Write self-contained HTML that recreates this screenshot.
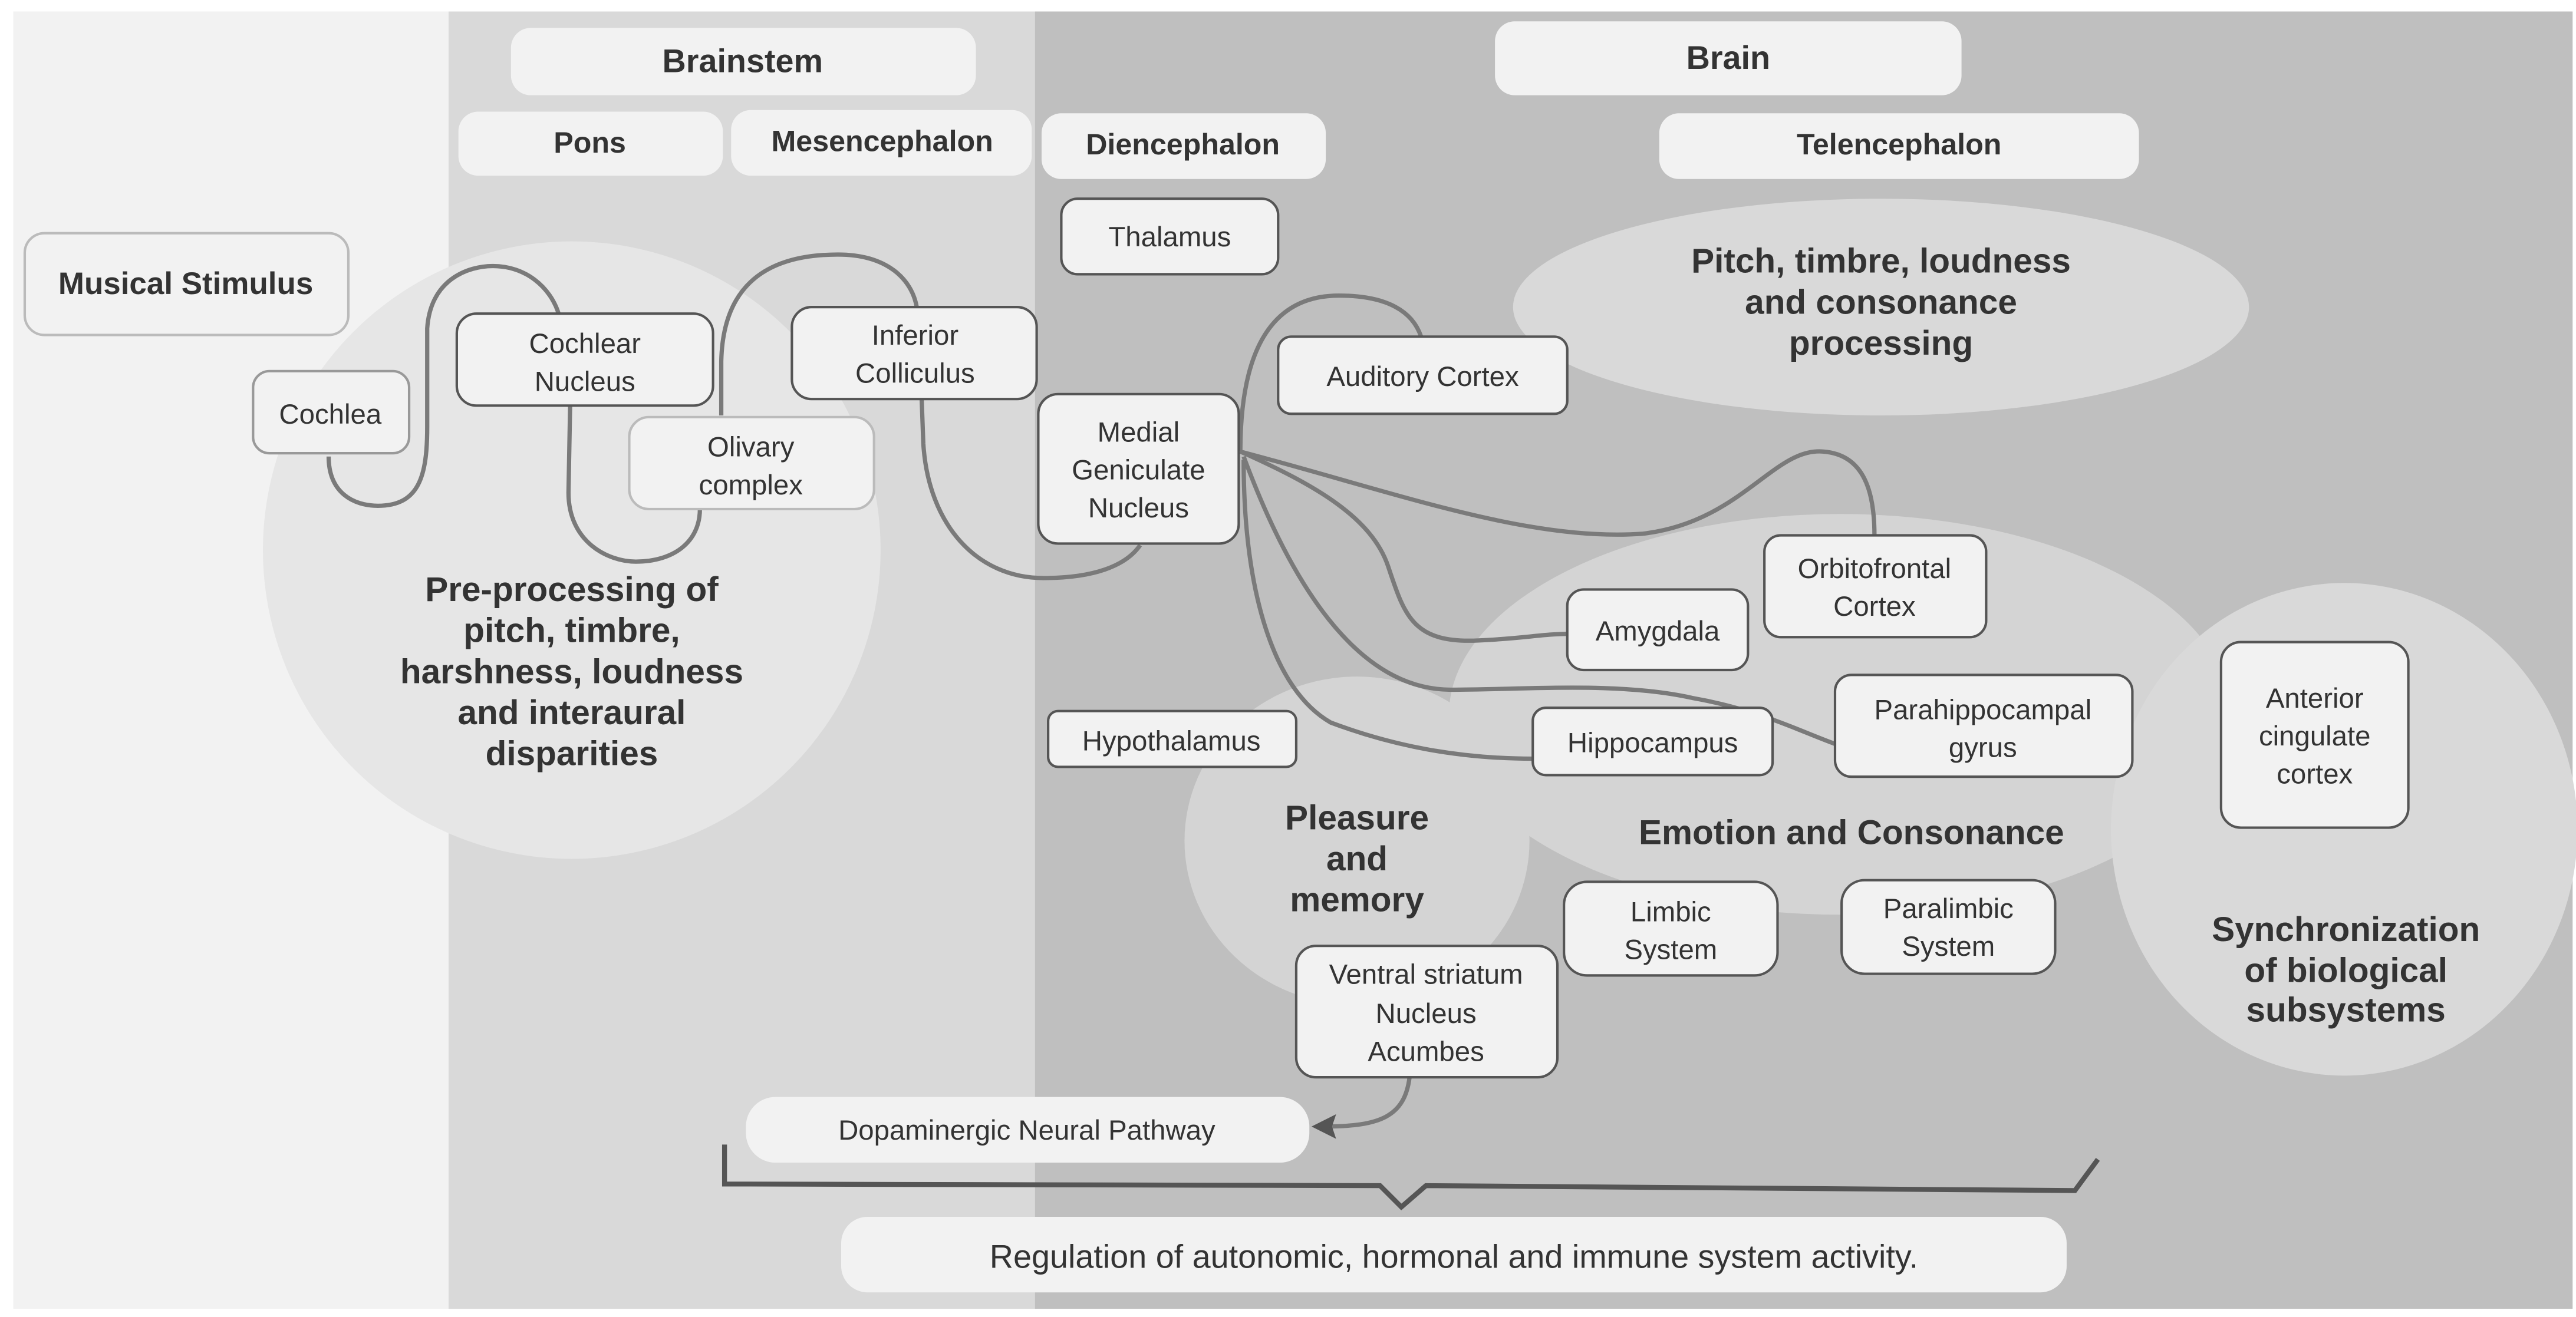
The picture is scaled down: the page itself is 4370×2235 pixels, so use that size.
<!DOCTYPE html>
<html><head><meta charset="utf-8"><style>
html,body{margin:0;padding:0;background:#fff;}
svg{display:block;}
text{font-family:"Liberation Sans",sans-serif;fill:#333;}
.b{font-weight:bold;}
</style></head><body>
<svg width="4370" height="2235" viewBox="0 0 1568 802" xmlns="http://www.w3.org/2000/svg">
<rect x="0" y="0" width="1568" height="802" fill="#fff"/>
<rect x="8" y="7" width="266" height="790" fill="#f2f2f2"/>
<rect x="273" y="7" width="358" height="790" fill="#d9d9d9"/>
<rect x="630" y="7" width="936" height="790" fill="#bfbfbf"/>

<!-- big regions -->
<circle cx="348" cy="335" r="188" fill="#e6e6e6"/>
<ellipse cx="1145" cy="187" rx="224" ry="66" fill="#d9d9d9"/>
<ellipse cx="1120" cy="435" rx="238" ry="122" fill="#d4d4d4"/>
<ellipse cx="826" cy="512" rx="105" ry="100" fill="#d4d4d4"/>
<ellipse cx="1427" cy="505" rx="142" ry="150" fill="#d9d9d9"/>

<!-- header boxes -->
<g fill="#f2f2f2">
<rect x="311" y="17" width="283" height="41" rx="12"/>
<rect x="279" y="68" width="161" height="39" rx="12"/>
<rect x="445" y="67" width="183" height="40" rx="12"/>
<rect x="634" y="69" width="173" height="40" rx="12"/>
<rect x="910" y="13" width="284" height="45" rx="12"/>
<rect x="1010" y="69" width="292" height="40" rx="12"/>
<rect x="454" y="668" width="343" height="40" rx="18"/>
<rect x="512" y="741" width="746" height="46" rx="16"/>
</g>
<g class="b" font-size="20" text-anchor="middle">
<text x="452" y="44" class="b">Brainstem</text>
<text x="359" y="93" class="b" font-size="18">Pons</text>
<text x="537" y="92" class="b" font-size="18">Mesencephalon</text>
<text x="720" y="94" class="b" font-size="18">Diencephalon</text>
<text x="1052" y="42" class="b">Brain</text>
<text x="1156" y="94" class="b" font-size="18">Telencephalon</text>
</g>
<text x="625" y="694" font-size="17" text-anchor="middle">Dopaminergic Neural Pathway</text>
<text x="885" y="772" font-size="20" text-anchor="middle">Regulation of autonomic, hormonal and immune system activity.</text>

<!-- connectors -->
<g fill="none" stroke="#7a7a7a" stroke-width="2.6">
<path d="M200,278 C200,300 215,308 230,308 C255,308 260,290 260,260 L260,200 C262,170 285,162 300,162 C320,162 335,175 340,191"/>
<path d="M347,247 L346,300 C346,330 370,342 387,342 C410,342 426,330 426,310"/>
<path d="M439,253 L439,220 C440,175 465,155 510,155 C540,155 555,170 558,187"/>
<path d="M561,243 L562,270 C565,320 595,352 635,352 C665,352 685,345 694,332"/>
<path d="M755,275 C755,220 770,180 815,180 C845,180 860,190 865,205"/>
<path d="M755,275 C850,300 930,330 1000,325 C1060,318 1080,272 1110,275 C1135,277 1141,300 1141,326"/>
<path d="M755,275 C800,295 835,315 845,345 C855,375 860,392 900,390 C925,389 940,386 954,386"/>
<path d="M757,278 C780,340 820,420 883,420 C930,420 985,415 1030,425 C1070,432 1095,445 1117,453"/>
<path d="M757,280 C757,360 775,420 810,440 C850,455 890,462 933,462"/>
<path d="M858,656 C855,680 840,686 806,686"/>
</g>
<path d="M800,686 L812,680 L810,686 L812,692 Z" fill="#555" stroke="#555" stroke-width="1.5"/>
<polyline points="441,697 441,721 840,722 853,735 868,722 1263,725 1277,706" fill="none" stroke="#555" stroke-width="3"/>

<!-- nodes -->
<g fill="#f2f2f2" stroke-width="1.5">
<rect x="15" y="142" width="197" height="62" rx="12" stroke="#bbb"/>
<rect x="154" y="226" width="95" height="50" rx="10" stroke="#999"/>
<rect x="278" y="191" width="156" height="56" rx="12" stroke="#555"/>
<rect x="383" y="254" width="149" height="56" rx="12" stroke="#bbb"/>
<rect x="482" y="187" width="149" height="56" rx="12" stroke="#555"/>
<rect x="646" y="121" width="132" height="46" rx="10" stroke="#555"/>
<rect x="632" y="240" width="122" height="91" rx="12" stroke="#555"/>
<rect x="778" y="205" width="176" height="47" rx="8" stroke="#555"/>
<rect x="1074" y="326" width="135" height="62" rx="10" stroke="#555"/>
<rect x="954" y="359" width="110" height="49" rx="10" stroke="#555"/>
<rect x="1117" y="411" width="181" height="62" rx="10" stroke="#555"/>
<rect x="933" y="431" width="146" height="41" rx="8" stroke="#555"/>
<rect x="638" y="433" width="151" height="34" rx="6" stroke="#555"/>
<rect x="1352" y="391" width="114" height="113" rx="12" stroke="#555"/>
<rect x="952" y="537" width="130" height="57" rx="14" stroke="#555"/>
<rect x="1121" y="536" width="130" height="57" rx="14" stroke="#555"/>
<rect x="789" y="576" width="159" height="80" rx="12" stroke="#555"/>
</g>
<g font-size="17" text-anchor="middle">
<text x="113" y="179" class="b" font-size="19">Musical Stimulus</text>
<text x="201" y="258">Cochlea</text>
<text x="356" y="215">Cochlear</text><text x="356" y="238">Nucleus</text>
<text x="457" y="278">Olivary</text><text x="457" y="301">complex</text>
<text x="557" y="210">Inferior</text><text x="557" y="233">Colliculus</text>
<text x="712" y="150">Thalamus</text>
<text x="693" y="269">Medial</text><text x="693" y="292">Geniculate</text><text x="693" y="315">Nucleus</text>
<text x="866" y="235">Auditory Cortex</text>
<text x="1141" y="352">Orbitofrontal</text><text x="1141" y="375">Cortex</text>
<text x="1009" y="390">Amygdala</text>
<text x="1207" y="438">Parahippocampal</text><text x="1207" y="461">gyrus</text>
<text x="1006" y="458">Hippocampus</text>
<text x="713" y="457">Hypothalamus</text>
<text x="1409" y="431">Anterior</text><text x="1409" y="454">cingulate</text><text x="1409" y="477">cortex</text>
<text x="1017" y="561">Limbic</text><text x="1017" y="584">System</text>
<text x="1186" y="559">Paralimbic</text><text x="1186" y="582">System</text>
<text x="868" y="599">Ventral striatum</text><text x="868" y="623">Nucleus</text><text x="868" y="646">Acumbes</text>
</g>
<g class="b" font-size="21" text-anchor="middle">
<text x="348" y="366" class="b">Pre-processing of</text>
<text x="348" y="391" class="b">pitch, timbre,</text>
<text x="348" y="416" class="b">harshness, loudness</text>
<text x="348" y="441" class="b">and interaural</text>
<text x="348" y="466" class="b">disparities</text>
<text x="1145" y="166" class="b">Pitch, timbre, loudness</text>
<text x="1145" y="191" class="b">and consonance</text>
<text x="1145" y="216" class="b">processing</text>
<text x="1127" y="514" class="b">Emotion and Consonance</text>
<text x="826" y="505" class="b">Pleasure</text>
<text x="826" y="530" class="b">and</text>
<text x="826" y="555" class="b">memory</text>
<text x="1428" y="573" class="b">Synchronization</text>
<text x="1428" y="598" class="b">of biological</text>
<text x="1428" y="622" class="b">subsystems</text>
</g>
</svg>
</body></html>
